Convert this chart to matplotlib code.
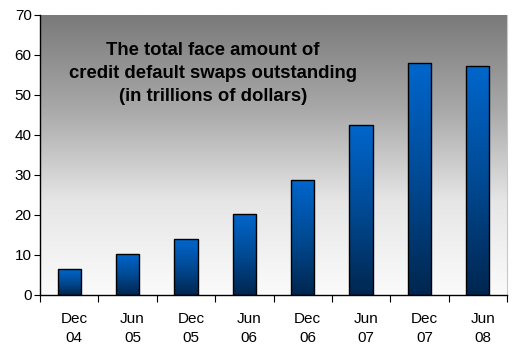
import numpy as np
import matplotlib
matplotlib.use('Agg')
import matplotlib.pyplot as plt
import matplotlib.transforms as mtransforms
from matplotlib.colors import LinearSegmentedColormap

plt.rcParams['font.family'] = ['Liberation Sans', 'DejaVu Sans']

# Data (trillions of dollars)
periods = ['Dec\n04', 'Jun\n05', 'Dec\n05', 'Jun\n06', 'Dec\n06', 'Jun\n07', 'Dec\n07', 'Jun\n08']
amounts = [6.4, 10.2, 14.0, 20.2, 28.7, 42.6, 58.0, 57.3]
title_text = 'The total face amount of\ncredit default swaps outstanding\n(in trillions of dollars)'

fig = plt.figure(figsize=(5.17, 3.5), dpi=100)
ax = fig.add_axes([40 / 517, 55 / 350, 467 / 517, 280 / 350])

n = len(amounts)
x = np.arange(n) + 0.5
ymax = 70

# background gradient: gray at the top fading to near white at the bottom
bg = LinearSegmentedColormap.from_list('bg', ['#fbfbfb', '#e6e6e6', '#a8a8a8', '#7a7a7a'])
grad = np.linspace(0, 1, 256).reshape(-1, 1)
ax.imshow(grad, cmap=bg, origin='lower', extent=[0, n, 0, ymax], aspect='auto', zorder=0)

# bars with a vertical blue gradient
bar_cmap = LinearSegmentedColormap.from_list('barc', ['#00264f', '#004a94', '#0066cc'])
bars = ax.bar(x, amounts, width=0.4, facecolor='none', edgecolor='black', linewidth=1.0, zorder=3)
for b in bars:
    x0, w, h = b.get_x(), b.get_width(), b.get_height()
    im = ax.imshow(grad, cmap=bar_cmap, origin='lower', extent=[x0, x0 + w, 0, h],
                   aspect='auto', zorder=2)
    im.set_clip_path(b)

ax.set_xlim(0, n)
ax.set_ylim(0, ymax)

ax.set_yticks(np.arange(0, 71, 10))
ax.tick_params(axis='y', direction='out', length=4, labelsize=11, pad=2)
ax.set_xticks(np.arange(0, n + 1))
ax.set_xticklabels([])
ax.tick_params(axis='x', which='major', direction='out', length=5)
ax.set_xticks(x, minor=True)
ax.set_xticklabels(periods, minor=True, fontsize=11, linespacing=1.5)
ax.tick_params(axis='x', which='minor', length=0, pad=12)
offset = mtransforms.ScaledTranslation(5 / 100, 0, fig.dpi_scale_trans)
for lab in ax.xaxis.get_minorticklabels():
    lab.set_transform(lab.get_transform() + offset)

ax.spines['top'].set_visible(False)
ax.spines['right'].set_color('#c8c8c8')
ax.spines['left'].set_linewidth(1.0)
ax.spines['bottom'].set_linewidth(1.0)

ax.text(0.37, 0.79, title_text, transform=ax.transAxes, ha='center', va='center',
        fontsize=13.3, fontweight='bold', linespacing=1.45, zorder=5)

fig.savefig('out.png', dpi=100)
